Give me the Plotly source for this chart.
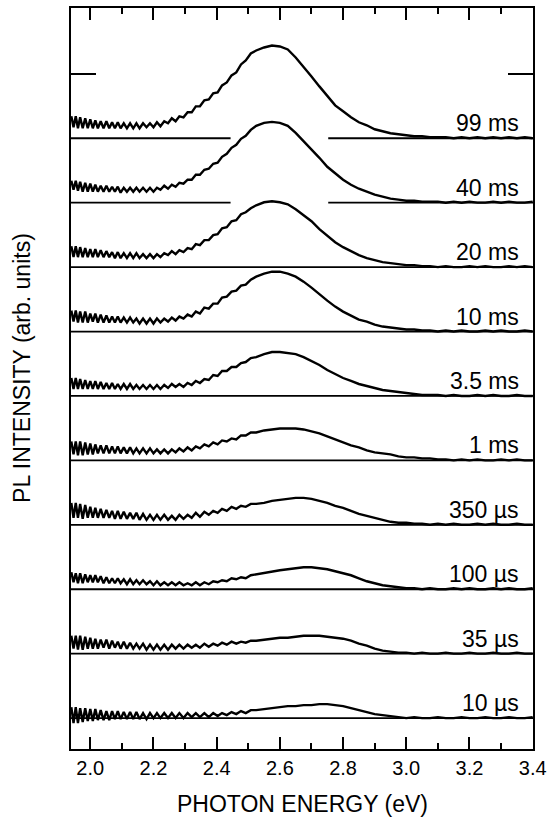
import plotly.graph_objects as go

# ---------------- data ----------------
# photon energy sampling (eV): dense where the interference fringes are, coarser above
energy = [1.940, 1.947, 1.954, 1.961, 1.968, 1.976, 1.984, 1.992, 2.000, 2.008,
          2.016, 2.024, 2.033, 2.042, 2.051, 2.060, 2.069, 2.078, 2.087, 2.096,
          2.106, 2.116, 2.126, 2.136, 2.146, 2.156, 2.167, 2.178, 2.189, 2.200,
          2.211, 2.222, 2.234, 2.246, 2.258, 2.270, 2.282, 2.295, 2.308, 2.321,
          2.334, 2.347, 2.361, 2.375, 2.389, 2.403, 2.417, 2.432, 2.447, 2.462,
          2.477, 2.492, 2.508,
          2.525, 2.550, 2.575, 2.600, 2.625, 2.650, 2.675, 2.700, 2.725, 2.750,
          2.775, 2.800, 2.825, 2.850, 2.875, 2.900, 2.925, 2.950, 2.975, 3.000,
          3.025, 3.050, 3.075, 3.100, 3.125, 3.150, 3.175, 3.200, 3.225, 3.250,
          3.275, 3.300, 3.325, 3.350, 3.375, 3.400]

# delay-time labels, bottom (shortest) to top (longest)
delays = ["10 µs", "35 µs", "100 µs", "350 µs", "1 ms",
          "3.5 ms", "10 ms", "20 ms", "40 ms", "99 ms"]

# PL intensity (arb. units) of each spectrum above its own baseline
pl_10us = [11, -5, 11, -5, 10, -4, 10, -3, 9, -3, 9, -2, 8, -2, 7, -2, 7, -1, 7, -1,
           6, -1, 6, -1, 6, -1, 5, -1, 5, 0, 5, 0, 5, 0, 5, 0, 5, 0, 5, 1,
           5, 1, 5, 1, 5, 2, 5, 3, 6, 4, 7, 5, 8,
           8, 9, 10, 11, 12, 12, 13, 13, 14, 14, 13, 12, 10, 8, 6, 4, 3, 2, 1, 0,
           1, 0, 0, 1, 0, 0, 1, 0, 0, 1, 0, 0, 1, 0, 0, 1]
pl_35us = [18, 5, 18, 4, 18, 4, 17, 5, 16, 5, 15, 5, 14, 6, 14, 5, 13, 6, 12, 5,
           12, 5, 11, 5, 10, 5, 10, 4, 9, 4, 9, 4, 9, 4, 9, 5, 9, 5, 9, 6,
           9, 6, 10, 7, 10, 8, 11, 9, 12, 10, 12, 11, 13,
           13, 14, 15, 16, 16, 17, 18, 18, 18, 17, 16, 15, 13, 10, 8, 5, 3, 2, 1, 1,
           0, 1, 0, 0, 1, 0, 0, 1, 0, 0, 1, 0, 0, 1, 0, 0]
pl_100us = [17, 7, 16, 6, 16, 6, 15, 7, 14, 7, 14, 7, 13, 6, 12, 6, 11, 6, 11, 6,
            10, 5, 10, 5, 9, 5, 9, 5, 8, 4, 8, 4, 7, 4, 7, 4, 7, 4, 6, 4,
            7, 4, 7, 5, 8, 7, 9, 8, 11, 10, 12, 11, 14,
            15, 16, 18, 19, 20, 21, 22, 22, 21, 20, 18, 16, 14, 11, 8, 6, 4, 3, 2, 1,
            1, 0, 1, 0, 0, 1, 0, 1, 0, 0, 1, 0, 1, 0, 0, 1]
pl_350us = [22, 7, 22, 7, 21, 6, 20, 7, 18, 7, 17, 7, 16, 7, 15, 7, 14, 6, 14, 6,
            13, 6, 12, 6, 12, 5, 11, 5, 10, 5, 10, 5, 10, 5, 9, 5, 10, 6, 10, 7,
            12, 8, 13, 10, 14, 12, 16, 14, 18, 16, 19, 18, 21,
            21, 22, 24, 25, 26, 27, 27, 26, 24, 22, 19, 17, 14, 11, 9, 7, 5, 3, 2, 2,
            1, 1, 0, 1, 0, 1, 0, 0, 1, 0, 1, 0, 0, 1, 0, 0]
pl_1ms = [19, 6, 19, 5, 19, 5, 18, 6, 17, 6, 16, 7, 15, 7, 15, 7, 14, 7, 14, 7,
          13, 7, 13, 7, 12, 7, 12, 7, 12, 7, 11, 7, 11, 7, 11, 8, 12, 9, 13, 10,
          14, 12, 16, 14, 18, 16, 20, 19, 22, 21, 25, 25, 28,
          28, 30, 31, 32, 32, 32, 31, 29, 27, 24, 21, 18, 15, 13, 10, 8, 7, 6, 4, 3,
          3, 2, 2, 1, 1, 0, 1, 0, 1, 0, 0, 1, 0, 1, 0, 0]
pl_3p5ms = [18, 7, 18, 7, 17, 7, 16, 7, 15, 7, 15, 7, 14, 7, 13, 7, 13, 7, 12, 7,
            12, 7, 12, 7, 11, 7, 11, 7, 11, 7, 11, 7, 11, 8, 12, 9, 12, 9, 13, 11,
            15, 13, 17, 16, 21, 20, 25, 25, 29, 29, 33, 34, 38,
            39, 42, 44, 44, 43, 42, 39, 35, 31, 26, 22, 18, 15, 12, 10, 8, 6, 5, 4, 3,
            2, 1, 1, 1, 0, 1, 0, 0, 1, 0, 1, 0, 0, 1, 0, 0]
pl_10ms = [21, 10, 21, 9, 20, 9, 20, 9, 18, 10, 18, 9, 17, 9, 16, 9, 15, 9, 15, 9,
           14, 9, 14, 9, 13, 8, 13, 8, 13, 8, 13, 9, 13, 10, 14, 11, 15, 13, 17, 15,
           20, 18, 24, 23, 28, 28, 34, 35, 40, 41, 46, 47, 52,
           55, 58, 60, 60, 58, 55, 50, 44, 37, 31, 25, 20, 16, 12, 10, 7, 5, 4, 3, 2,
           2, 1, 1, 0, 1, 0, 1, 0, 0, 1, 0, 1, 0, 0, 1, 0]
pl_20ms = [21, 10, 21, 10, 20, 10, 19, 10, 18, 10, 18, 10, 17, 10, 16, 10, 15, 9, 15, 9,
           14, 9, 14, 9, 14, 9, 13, 9, 13, 9, 13, 10, 14, 12, 16, 13, 17, 15, 19, 18,
           23, 22, 27, 27, 32, 33, 39, 40, 46, 47, 53, 55, 59,
           62, 65, 66, 65, 63, 58, 52, 46, 38, 31, 25, 20, 16, 12, 9, 7, 5, 4, 3, 2,
           2, 1, 1, 0, 1, 0, 0, 1, 0, 1, 0, 0, 1, 0, 1, 0]
pl_40ms = [22, 13, 22, 12, 21, 11, 20, 11, 19, 11, 18, 11, 17, 11, 17, 11, 16, 11, 16, 10,
           15, 11, 15, 11, 15, 11, 15, 11, 15, 11, 15, 13, 17, 14, 18, 16, 20, 19, 23, 23,
           28, 28, 33, 34, 39, 40, 46, 49, 55, 58, 64, 67, 73,
           77, 80, 81, 80, 77, 70, 62, 54, 45, 36, 29, 23, 18, 14, 11, 8, 6, 4, 3, 2,
           2, 1, 1, 1, 0, 1, 0, 1, 0, 0, 1, 0, 1, 0, 0, 1]
pl_99ms = [22, 11, 22, 10, 21, 10, 20, 10, 19, 10, 18, 10, 17, 10, 17, 10, 16, 10, 16, 10,
           15, 10, 15, 10, 15, 10, 15, 11, 15, 11, 16, 12, 17, 15, 20, 17, 22, 21, 26, 26,
           32, 32, 38, 39, 45, 46, 53, 56, 63, 66, 74, 78, 85,
           88, 91, 93, 92, 89, 81, 72, 62, 52, 42, 33, 27, 21, 16, 13, 9, 7, 5, 4, 3,
           2, 2, 1, 1, 1, 0, 1, 0, 1, 0, 1, 0, 1, 0, 1, 0]

spectra = [pl_10us, pl_35us, pl_100us, pl_350us, pl_1ms,
           pl_3p5ms, pl_10ms, pl_20ms, pl_40ms, pl_99ms]

# baselines of the two top spectra are interrupted where the next peak passes
baseline_gap = (2.444, 2.753)
gapped = {"99 ms", "40 ms"}

x_ticks = [2.0, 2.2, 2.4, 2.6, 2.8, 3.0, 3.2, 3.4]

# ---------------- layout constants ----------------
X_MIN, X_MAX = 1.939, 3.401
STEP = 64.6          # vertical offset between stacked spectra
FONT = "Liberation Sans, Arial, Helvetica, sans-serif"

fig = go.Figure()

for i, (lab, vals) in enumerate(zip(delays, spectra)):
    off = i * STEP
    if lab in gapped:
        bx = [X_MIN, baseline_gap[0], None, baseline_gap[1], X_MAX]
        by = [off, off, None, off, off]
    else:
        bx = [X_MIN, X_MAX]
        by = [off, off]
    fig.add_trace(go.Scatter(x=bx, y=by, mode="lines",
                             line=dict(color="black", width=1.8),
                             hoverinfo="skip", showlegend=False))

for i, (lab, vals) in enumerate(zip(delays, spectra)):
    off = i * STEP
    fig.add_trace(go.Scatter(x=energy, y=[v + off for v in vals], mode="lines",
                             name=lab, line=dict(color="black", width=2.4),
                             showlegend=False))
    fig.add_annotation(x=3.363, y=off, xref="x", yref="y", text=lab,
                       showarrow=False, xanchor="right", yanchor="bottom",
                       font=dict(family=FONT, size=23, color="black"))

fig.add_annotation(x=0.5, y=-0.074, xref="paper", yref="paper",
                   text="PHOTON ENERGY (eV)", showarrow=False,
                   xanchor="center", yanchor="middle",
                   font=dict(family=FONT, size=23, color="black"))
fig.add_annotation(x=-0.105, y=0.515, xref="paper", yref="paper",
                   text="PL INTENSITY (arb. units)", showarrow=False, textangle=-90,
                   xanchor="center", yanchor="middle",
                   font=dict(family=FONT, size=23, color="black"))

fig.update_layout(
    width=553, height=821,
    margin=dict(l=71, r=15, t=6, b=72),
    paper_bgcolor="white", plot_bgcolor="white",
    font=dict(family=FONT, color="black"),
    showlegend=False,
)
fig.update_xaxes(
    range=[X_MIN, X_MAX], showgrid=False, zeroline=False,
    showline=True, linecolor="black", linewidth=2, mirror="ticks",
    ticks="inside", ticklen=12, tickwidth=1.6, tickcolor="black",
    tickvals=x_ticks, ticktext=[f"{t:.1f}" for t in x_ticks],
    tickfont=dict(family=FONT, size=20, color="black"),
    minor=dict(dtick=0.1, tick0=2.0, ticks="inside", ticklen=6,
               tickwidth=1.6, tickcolor="black", showgrid=False),
)
fig.update_yaxes(
    range=[-31, 712], showgrid=False, zeroline=False,
    showline=True, linecolor="black", linewidth=2, mirror="ticks",
    ticks="inside", ticklen=25, tickwidth=1.6, tickcolor="black",
    tickvals=[10 * STEP], showticklabels=False,
)

fig.write_html(
    "out.html",
    config={"displayModeBar": False},
    post_script="document.body.style.margin='0';document.body.style.overflow='hidden';",
)
